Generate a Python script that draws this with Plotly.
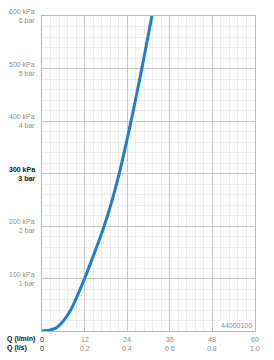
import plotly.graph_objects as go

# flow (l/min) and pressure (kPa)
flow_lpm = [0, 2, 4, 6, 8, 10, 12, 14, 16, 18, 20, 22, 24, 26, 28, 30, 31]
pressure_kpa = [0, 1.5, 6, 19, 39, 68, 100, 135, 171, 210, 255, 307, 366, 429, 496, 566, 602]

x_ticks = [0, 12, 24, 36, 48, 60]
x_lpm_labels = ["0", "12", "24", "36", "48", "60"]
x_ls_labels = ["0", "0.2", "0.4", "0.6", "0.8", "1.0"]
y_ticks = [100, 200, 300, 400, 500, 600]
y_kpa_labels = ["100 kPa", "200 kPa", "300 kPa", "400 kPa", "500 kPa", "600 kPa"]
y_bar_labels = ["1 bar", "2 bar", "3 bar", "4 bar", "5 bar", "6 bar"]
highlight_y = 300
code_label = "44000100"

FONT = "Liberation Sans, Arial, sans-serif"
GRAY = "#8a8a8a"

fig = go.Figure()
fig.add_trace(go.Scatter(
    x=flow_lpm, y=pressure_kpa, mode="lines",
    line=dict(color="#1f7fcc", width=3, shape="spline", smoothing=1.0),
    hoverinfo="skip", showlegend=False, cliponaxis=True,
))

fig.update_layout(
    width=274, height=360,
    margin=dict(l=42, r=19, t=16, b=29),
    paper_bgcolor="white", plot_bgcolor="white",
    font=dict(family=FONT, size=7, color=GRAY),
    xaxis=dict(range=[0, 60], tickvals=x_ticks, showticklabels=False,
               showgrid=True, gridcolor="#c4c4c4", gridwidth=1,
               minor=dict(dtick=2.4, showgrid=True, gridcolor="#ececec", gridwidth=1),
               showline=True, linecolor="#b8b8b8", linewidth=1, mirror=True,
               zeroline=False, ticks=""),
    yaxis=dict(range=[0, 600], tickvals=y_ticks, showticklabels=False,
               showgrid=True, gridcolor="#c4c4c4", gridwidth=1,
               minor=dict(dtick=20, showgrid=True, gridcolor="#ececec", gridwidth=1),
               showline=True, linecolor="#b8b8b8", linewidth=1, mirror=True,
               zeroline=False, ticks=""),
)

annotations = []
for yv, k, b in zip(y_ticks, y_kpa_labels, y_bar_labels):
    bold = yv == highlight_y
    txt = f"<b>{k}<br>{b}</b>" if bold else f"{k}<br>{b}"
    annotations.append(dict(
        xref="paper", yref="y", x=0, y=yv, text=txt, showarrow=False,
        xanchor="right", yanchor="middle", align="right", xshift=-5,
        font=dict(family=FONT, size=7, color="#111111" if bold else GRAY),
    ))

for i, (xv, a, b) in enumerate(zip(x_ticks, x_lpm_labels, x_ls_labels)):
    col = "#111111" if i == 0 else GRAY
    annotations.append(dict(xref="x", yref="paper", x=xv, y=0, yshift=-8, text=a,
                            showarrow=False, xanchor="center", yanchor="middle",
                            font=dict(family=FONT, size=7, color=col)))
    annotations.append(dict(xref="x", yref="paper", x=xv, y=0, yshift=-17, text=b,
                            showarrow=False, xanchor="center", yanchor="middle",
                            font=dict(family=FONT, size=7, color=col)))

annotations.append(dict(xref="paper", yref="paper", x=0, y=0, xshift=-37, yshift=-8,
                        text="<b>Q (l/min)</b>", showarrow=False, xanchor="left",
                        yanchor="middle", font=dict(family=FONT, size=7, color="#111111")))
annotations.append(dict(xref="paper", yref="paper", x=0, y=0, xshift=-37, yshift=-17,
                        text="<b>Q (l/s)</b>", showarrow=False, xanchor="left",
                        yanchor="middle", font=dict(family=FONT, size=7, color="#111111")))
annotations.append(dict(xref="paper", yref="paper", x=1, y=0, xshift=-1, yshift=6,
                        text=code_label, showarrow=False, xanchor="right",
                        yanchor="middle", bgcolor="white",
                        font=dict(family=FONT, size=7, color=GRAY)))

fig.update_layout(annotations=annotations)
fig.write_html("out.html")
